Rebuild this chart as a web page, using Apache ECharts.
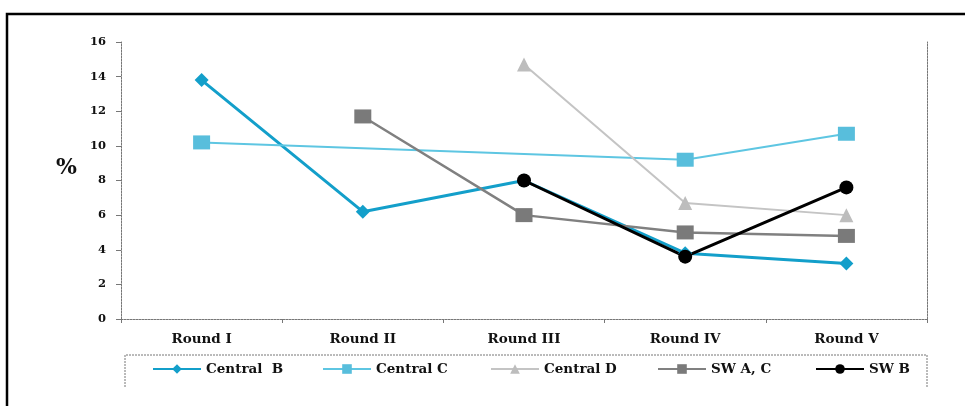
<!DOCTYPE html>
<html>
<head>
<meta charset="utf-8">
<style>
  html, body { margin: 0; padding: 0; background: #fff; }
  #chart { width: 965px; height: 406px; }
</style>
<script src="https://cdn.jsdelivr.net/npm/echarts@6/dist/echarts.min.js"></script>
</head>
<body>
<div id="chart"></div>
<script>
// Survey rounds on the x axis
const categories = ['Round I', 'Round II', 'Round III', 'Round IV', 'Round V'];

// Percentage per region and round (null = not surveyed that round)
const centralB = [13.8, 6.2, 8.0, 3.8, 3.2];
const centralC = [10.2, null, null, 9.2, 10.7];
const centralD = [null, null, 14.7, 6.7, 6.0];
const swAC     = [null, 11.7, 6.0, 5.0, 4.8];
const swB      = [null, null, 8.0, 3.6, 7.6];

// Value axis ticks
const yTicks = [0, 2, 4, 6, 8, 10, 12, 14, 16];

const serifBold = { fontFamily: 'DejaVu Serif', fontWeight: 'bold', color: '#111' };
const dotted = { color: '#777', width: 1, type: [2, 1] };

function lineSeries(name, data, color, lineWidth, symbol, size, symColor) {
  return {
    name: name,
    type: 'line',
    data: data,
    connectNulls: true,
    symbol: symbol,
    symbolSize: size,
    showSymbol: true,
    lineStyle: { color: color, width: lineWidth },
    itemStyle: { color: symColor || color, borderWidth: 0 },
    emphasis: { disabled: true },
    animation: false
  };
}

const series = [
  lineSeries('Central  B', centralB, '#139fca', 3, 'diamond', 14),
  lineSeries('Central C', centralC, '#5ec6e2', 2, 'rect', [17, 14], '#58bedc'),
  lineSeries('Central D', centralD, '#c4c4c4', 2, 'triangle', 14, '#bdbdbd'),
  lineSeries('SW A, C', swAC, '#808080', 2.5, 'rect', [17, 14], '#7a7a7a'),
  lineSeries('SW B', swB, '#000000', 3, 'circle', 14)
];

// one legend per entry so each sits at its own spot in the key box
const legendLefts = [147, 317, 485, 652, 810];
const legends = series.map((s, i) => ({
  data: [s.name],
  left: legendLefts[i],
  top: 357,
  itemWidth: 48,
  itemHeight: 12,
  itemGap: 8,
  selectedMode: false,
  textStyle: Object.assign({ fontSize: 13.5 }, serifBold)
}));

const chart = echarts.init(document.getElementById('chart'), null, { renderer: 'canvas' });
chart.setOption({
  animation: false,
  backgroundColor: '#fff',
  grid: { left: 121, right: 38, top: 42, bottom: 87 },
  legend: legends,
  xAxis: {
    type: 'category',
    data: categories,
    boundaryGap: true,
    axisLine: { lineStyle: dotted },
    axisTick: { show: true, length: 4, lineStyle: { color: '#777' } },
    axisLabel: Object.assign({ fontSize: 13.5, margin: 13 }, serifBold)
  },
  yAxis: [
    {
      type: 'value',
      min: yTicks[0],
      max: yTicks[yTicks.length - 1],
      interval: 2,
      axisLine: { show: true, lineStyle: dotted },
      axisTick: { show: true, length: 5, lineStyle: { color: '#777' } },
      axisLabel: Object.assign({ fontSize: 11.5, margin: 15 }, serifBold),
      splitLine: { show: false }
    },
    {
      type: 'value',
      position: 'right',
      min: yTicks[0],
      max: yTicks[yTicks.length - 1],
      interval: 2,
      axisLine: { show: true, lineStyle: dotted },
      axisTick: { show: false },
      axisLabel: { show: false },
      splitLine: { show: false }
    }
  ],
  series: series,
  graphic: [
    // outer frame
    {
      type: 'rect',
      shape: { x: 7, y: 14, width: 1000, height: 500 },
      style: { fill: 'none', stroke: '#000', lineWidth: 2.5 },
      silent: true
    },
    // key box outline
    {
      type: 'polyline',
      shape: { points: [[125, 387], [125, 355], [927, 355], [927, 387]] },
      style: { fill: 'none', stroke: '#777', lineWidth: 1, lineDash: [2, 1] },
      silent: true
    },
    // axis unit
    {
      type: 'text',
      left: 56,
      top: 157,
      style: { text: '%', fontSize: 22, fontFamily: 'DejaVu Serif', fontWeight: 'bold', fill: '#111' },
      silent: true
    }
  ]
});
</script>
</body>
</html>
